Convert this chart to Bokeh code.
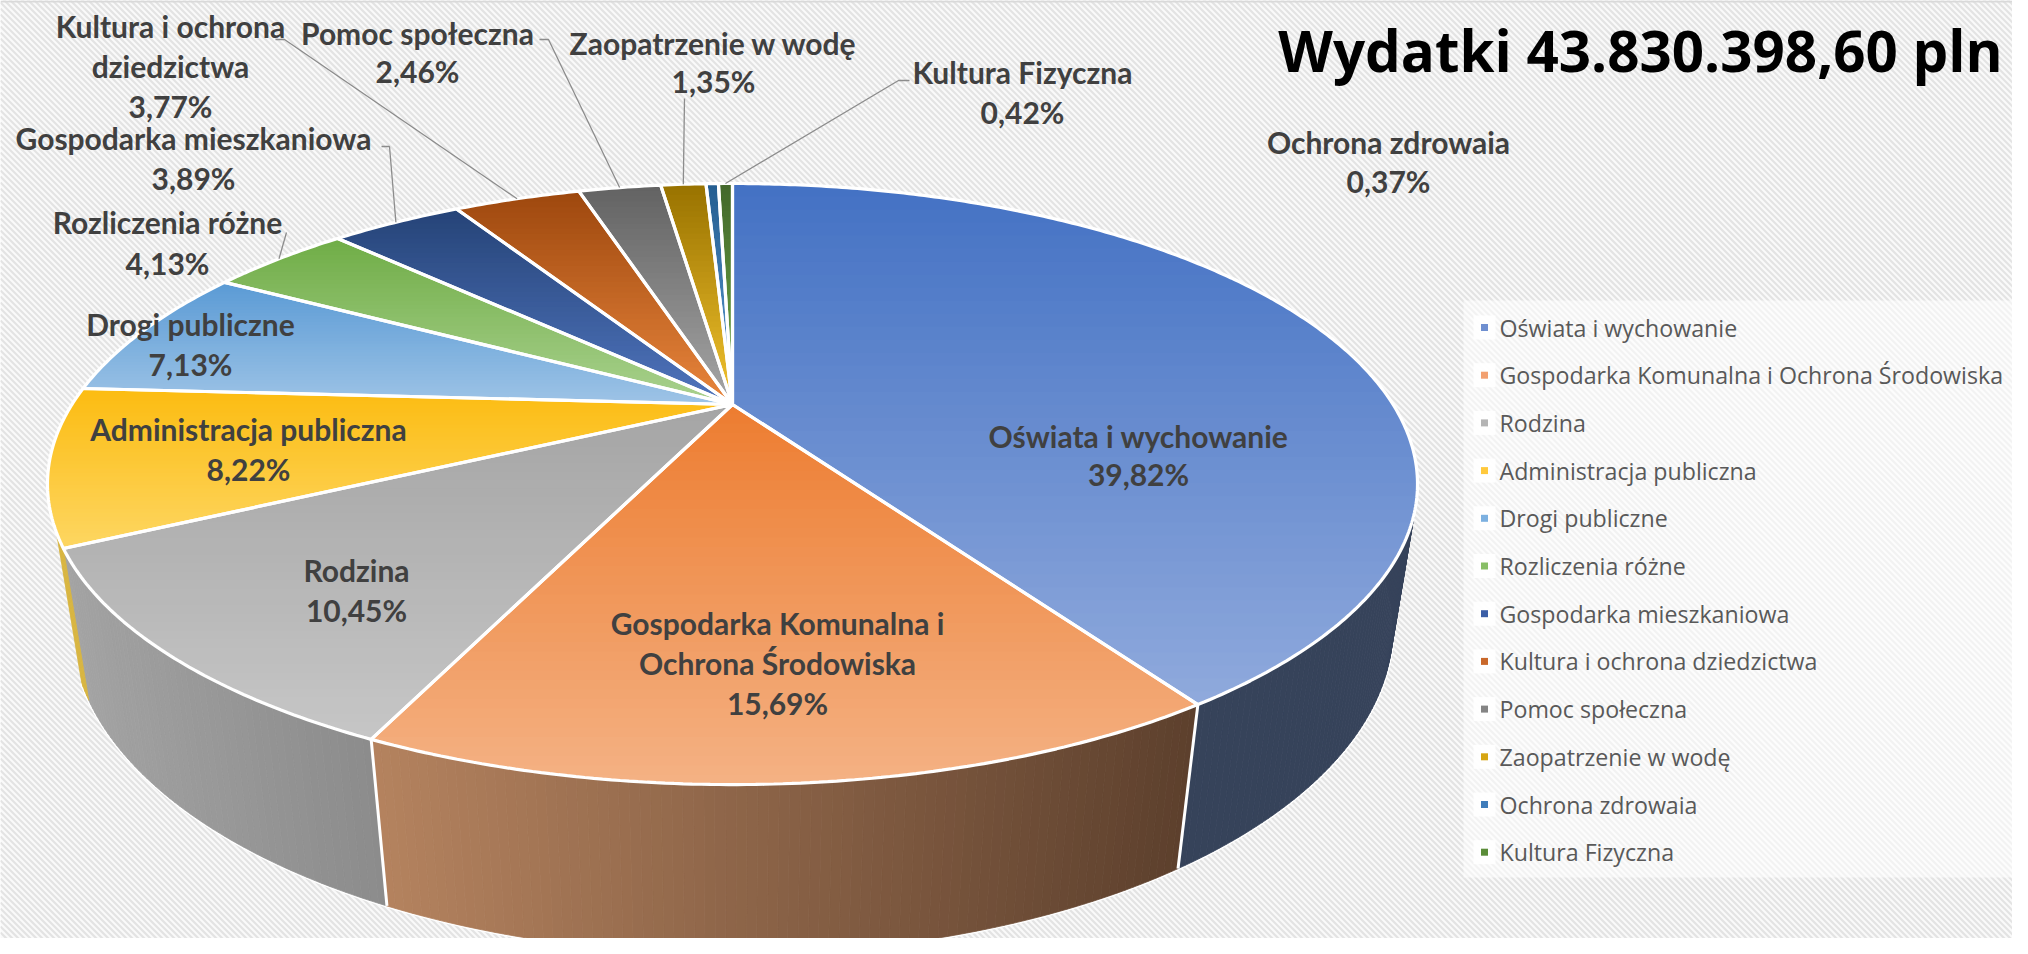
import math
from bokeh.plotting import figure
from bokeh.models import Range1d
from bokeh.core.properties import value
from bokeh.embed import file_html
from bokeh.resources import INLINE

# ---------- data ----------
categories = ["Oświata i wychowanie", "Gospodarka Komunalna i Ochrona Środowiska", "Rodzina",
              "Administracja publiczna", "Drogi publiczne", "Rozliczenia różne",
              "Gospodarka mieszkaniowa", "Kultura i ochrona dziedzictwa", "Pomoc społeczna",
              "Zaopatrzenie w wodę", "Ochrona zdrowaia", "Kultura Fizyczna"]
shares = [39.82, 15.69, 10.45, 8.22, 7.13, 4.13, 3.89, 3.77, 2.46, 1.35, 0.37, 0.42]
title_text = "Wydatki 43.830.398,60 pln"

# ---------- style ----------
top_from = ["#4472C4", "#ED7D31", "#A5A5A5", "#FCBC12", "#5B9BD5", "#70AD47",
            "#264478", "#9E480E", "#636363", "#997300", "#255E91", "#43682B"]
top_to = ["#8FA9DC", "#F4B183", "#C6C6C6", "#FDD661", "#9DC3E6", "#A9D18E",
          "#4F74BD", "#E8853C", "#A5A5A5", "#F2C22E", "#5B9BD5", "#70AD47"]
wall_from = ["#36435A", "#B5835F", "#A3A3A3", "#D8B540"]
wall_to = ["#36435A", "#5D402D", "#8C8C8C", "#D8B540"]
legend_colors = ["#6F8FD0", "#F2A070", "#B4B4B4", "#FFC93C", "#7CB0E0", "#88BE66",
                 "#3B5EA6", "#C9682A", "#848484", "#D6A512", "#3F7CBA", "#5A8C38"]
INK = "#404040"
LABEL_FONT = value("Lato")

# label layout: name lines, centre x, first-line y, line step
label_layout = [
    (["Oświata i wychowanie"], 1138, 435, 38),
    (["Gospodarka Komunalna i", "Ochrona Środowiska"], 777, 622, 40),
    (["Rodzina"], 356, 569, 40),
    (["Administracja publiczna"], 248, 428, 40),
    (["Drogi publiczne"], 190, 323, 40),
    (["Rozliczenia różne"], 167, 221, 41),
    (["Gospodarka mieszkaniowa"], 193, 137, 40),
    (["Kultura i ochrona", "dziedzictwa"], 170, 25, 40),
    (["Pomoc społeczna"], 417, 32, 38),
    (["Zaopatrzenie w wodę"], 713, 42, 38),
    (["Ochrona zdrowaia"], 1388, 141, 39),
    (["Kultura Fizyczna"], 1022, 71, 40),
]
# leader elbows per slice index: label end, elbow
leaders = {5: [(286, 232)], 6: [(381, 146), (389, 146)], 7: [(275, 39), (284, 39)],
           8: [(539, 39), (548, 39)], 9: [(684, 98)], 11: [(909, 80), (898, 80)]}

# ---------- projection of the tilted disc ----------
AX, AY = 732.0, 404.0
C, A, D = 0.2646, -279.5, 660.6
VY, T = 4146.0, 0.0347


def rim(th):
    u, v = math.sin(th), math.cos(th)
    w = 1 + C * v
    return AX + D * u / w, AY + A * v / w


def base(th):
    u, v = math.sin(th), math.cos(th)
    w = 1 + C * v + T
    return AX + D * u / w, AY + (A * v + T * VY) / w


def mix(c1, c2, t):
    a = [int(c1[i:i + 2], 16) for i in (1, 3, 5)]
    b = [int(c2[i:i + 2], 16) for i in (1, 3, 5)]
    return "#%02x%02x%02x" % tuple(round(p + (q - p) * t) for p, q in zip(a, b))


def clip_below(poly, y0):
    out = []
    for i, (x1, y1) in enumerate(poly):
        x2, y2 = poly[(i + 1) % len(poly)]
        if y1 >= y0:
            out.append((x1, y1))
        if (y1 >= y0) != (y2 >= y0):
            t = (y0 - y1) / (y2 - y1)
            out.append((x1 + (x2 - x1) * t, y0))
    return out


total = sum(shares)
edges = [0.0]
for s in shares:
    edges.append(edges[-1] + s / total * 2 * math.pi)

W, H = 2012, 938
p = figure(width=W, height=H, x_range=Range1d(0, W), y_range=Range1d(H, 0),
           output_backend="svg", toolbar_location=None, min_border=0)
p.axis.visible = False
p.grid.visible = False
p.outline_line_color = None
p.background_fill_color = "#fafafa"
p.border_fill_color = "#fafafa"

# background weave
xs, ys = [], []
for c in range(-2200, 1000, 6):
    xs.append([0, 2100])
    ys.append([c, c + 2100])
p.multi_line(xs, ys, line_color="#e3e3e3", line_width=2.2)
p.quad(left=[0], right=[W], top=[0], bottom=[2], fill_color="#d9d9d9", line_color=None)
p.quad(left=[1463], right=[W], top=[300], bottom=[877], fill_color="#ffffff", fill_alpha=0.55, line_color=None)

# side walls: white base line first, so that only its outer half shows
wall_spans = []
for i in range(len(wall_from)):
    a, b = edges[i], edges[i + 1]
    a = max(a, math.pi / 2 - 0.35)
    b = min(b, 1.5 * math.pi + 0.35)
    if i == 3:
        b = edges[3] + 0.05
    n = max(4, int((b - a) / 0.012))
    wall_spans.append([a + (b - a) * k / n for k in range(n + 1)])
for ths in wall_spans:
    p.line([base(t)[0] for t in ths], [base(t)[1] for t in ths], line_color="white", line_width=3.5)

for i, (cf, ct) in enumerate(zip(wall_from, wall_to)):
    ths = wall_spans[i]
    x_vals = [rim(t)[0] for t in ths]
    x0, x1 = min(x_vals), max(x_vals)
    qx, qy, col = [], [], []
    for k in range(len(ths) - 1):
        t0, t1 = ths[k], ths[k + 1]
        r0, r1, b1, b0 = rim(t0), rim(t1), base(t1), base(t0)
        qx.append([r0[0], r1[0], b1[0], b0[0]])
        qy.append([r0[1], r1[1], b1[1], b0[1]])
        f = (r0[0] - x0) / max(x1 - x0, 1)
        col.append(mix(cf, ct, f))
    p.patches(qx, qy, fill_color=col, line_color=col, line_width=0.8)

# wall seams
for i in range(1, 3):
    r, bb = rim(edges[i]), base(edges[i])
    p.line([r[0], bb[0]], [r[1], bb[1]], line_color="white", line_width=3)

# top surfaces
BANDS = 40
for i in range(len(shares)):
    a, b = edges[i], edges[i + 1]
    n = max(3, int((b - a) / 0.01))
    poly = [(AX, AY)] + [rim(a + (b - a) * k / n) for k in range(n + 1)]
    ymin = min(q[1] for q in poly)
    ymax = max(q[1] for q in poly)
    bx, by, col = [], [], []
    for k in range(BANDS):
        y0 = ymin + (ymax - ymin) * k / BANDS
        part = clip_below(poly, y0)
        if len(part) < 3:
            continue
        bx.append([q[0] for q in part])
        by.append([q[1] for q in part])
        col.append(mix(top_from[i], top_to[i], k / (BANDS - 1)))
    p.patches(bx, by, fill_color=col, line_color=None)
for i in range(len(shares)):
    a, b = edges[i], edges[i + 1]
    n = max(3, int((b - a) / 0.01))
    poly = [(AX, AY)] + [rim(a + (b - a) * k / n) for k in range(n + 1)] + [(AX, AY)]
    p.line([q[0] for q in poly], [q[1] for q in poly], line_color="white", line_width=3.2)

# leader lines
for idx, pts in leaders.items():
    target = rim((edges[idx] + edges[idx + 1]) / 2)
    path = pts + [target]
    p.line([q[0] for q in path], [q[1] for q in path], line_color="#8c8c8c", line_width=1.3)

# data labels
lx, ly, lt = [], [], []
for (lines, cx, y0, step), sh in zip(label_layout, shares):
    for j, t in enumerate(lines + [f"{sh:.2f}".replace(".", ",") + "%"]):
        lx.append(cx)
        ly.append(y0 + j * step)
        lt.append(t)
p.text(x=lx, y=ly, text=lt, text_font=LABEL_FONT, text_font_style="bold", text_font_size="30px",
       text_color=INK, text_align="center", text_baseline="middle")

# title
p.text(x=[1640], y=[50], text=[title_text], text_font=value("Open Sans"), text_font_style="bold",
       text_font_size="56.5px", text_color="#000000", text_align="center", text_baseline="middle")

# legend
rows = [327 + 47.7 * k for k in range(len(categories))]
p.rect(x=[1484] * len(rows), y=rows, width=22, height=24, fill_color="white", fill_alpha=0.9, line_color=None)
p.rect(x=[1484] * len(rows), y=rows, width=7, height=7, fill_color=legend_colors, line_color=None)
p.text(x=[1499] * len(rows), y=rows, text=categories, text_font=value("Open Sans"),
       text_font_size="23.2px", text_color="#595959", text_align="left", text_baseline="middle")

open("out.html", "w").write(file_html(p, INLINE))
